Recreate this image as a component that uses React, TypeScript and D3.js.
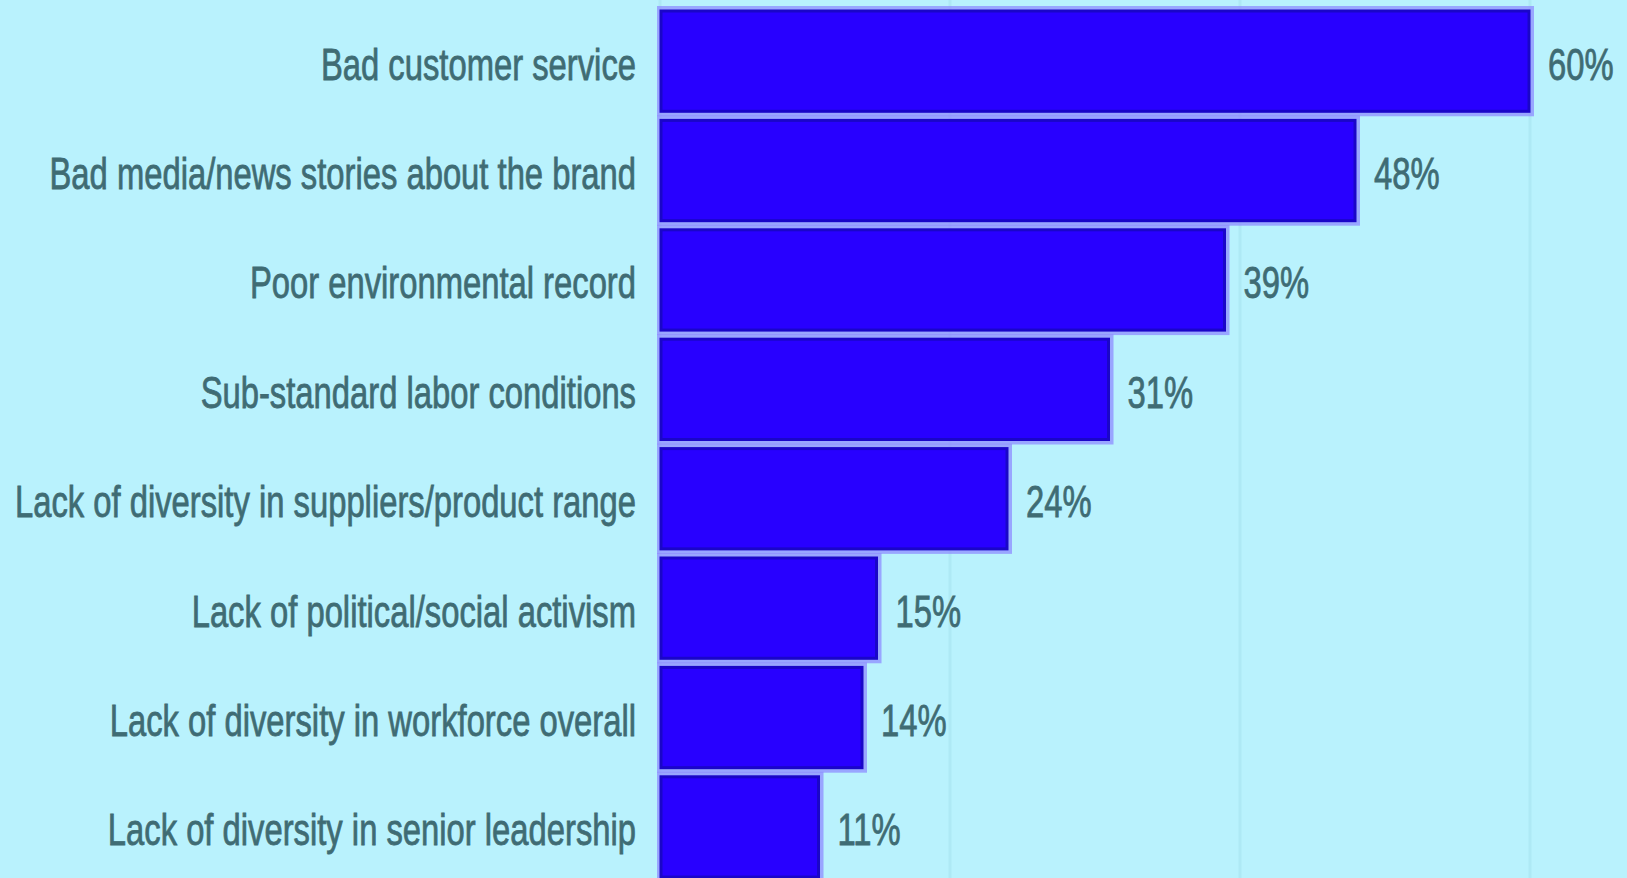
import React, { useEffect, useRef } from 'react';
import * as d3 from 'd3';

const categories = [
  'Bad customer service',
  'Bad media/news stories about the brand',
  'Poor environmental record',
  'Sub-standard labor conditions',
  'Lack of diversity in suppliers/product range',
  'Lack of political/social activism',
  'Lack of diversity in workforce overall',
  'Lack of diversity in senior leadership',
];
const values = [60, 48, 39, 31, 24, 15, 14, 11];
const gridTicks = [0, 20, 40, 60];

const WIDTH = 1627;
const HEIGHT = 878;

const App: React.FC = () => {
  const svgRef = useRef<SVGSVGElement | null>(null);

  useEffect(() => {
    document.body.style.margin = '0';
    if (!svgRef.current) return;
    const svg = d3.select(svgRef.current);
    svg.selectAll('*').remove();

    const bg = '#b9f2fd';
    const textColor = '#3f6c74';
    const fontSize = 44;
    const squeeze = 0.745;
    const step = 109.4;
    const pad = 0.065;

    svg.append('rect').attr('width', WIDTH).attr('height', HEIGHT).attr('fill', bg);

    const x = d3.scaleLinear().domain([0, 60]).range([660, 1530]);
    const y = d3.scaleBand<string>()
      .domain(categories)
      .range([10, 10 + step * (categories.length - pad)])
      .paddingInner(pad)
      .paddingOuter(0);

    // faint gridlines
    svg.selectAll('line.grid')
      .data(gridTicks)
      .enter()
      .append('line')
      .attr('class', 'grid')
      .attr('x1', d => x(d))
      .attr('x2', d => x(d))
      .attr('y1', 0)
      .attr('y2', HEIGHT)
      .attr('stroke', '#aee9f5')
      .attr('stroke-width', 3);

    const rows = categories.map((c, i) => ({ cat: c, value: values[i] }));

    // halo behind bars
    svg.selectAll('rect.halo')
      .data(rows)
      .enter()
      .append('rect')
      .attr('class', 'halo')
      .attr('x', x(0) - 3)
      .attr('y', d => (y(d.cat) as number) - 4)
      .attr('width', d => x(d.value) - x(0) + 7)
      .attr('height', y.bandwidth() + 8)
      .attr('fill', '#8f8cff')
      .attr('opacity', 0.75);

    svg.selectAll('rect.bar')
      .data(rows)
      .enter()
      .append('rect')
      .attr('class', 'bar')
      .attr('x', x(0) + 1)
      .attr('y', d => (y(d.cat) as number) + 1)
      .attr('width', d => x(d.value) - x(0) - 2)
      .attr('height', y.bandwidth() - 2)
      .attr('fill', '#2800ff')
      .attr('stroke', '#1a06c8')
      .attr('stroke-width', 3);

    const mid = (c: string) => (y(c) as number) + y.bandwidth() / 2 + 3;

    // category labels
    svg.selectAll('g.cat')
      .data(rows)
      .enter()
      .append('g')
      .attr('class', 'cat')
      .attr('transform', d => `translate(636,${mid(d.cat)}) scale(${squeeze},1)`)
      .append('text')
      .attr('text-anchor', 'end')
      .attr('dy', '0.35em')
      .style('font-family', '"Liberation Sans", Arial, sans-serif')
      .style('font-size', `${fontSize}px`)
      .attr('fill', textColor)
      .attr('stroke', textColor)
      .attr('stroke-width', 0.8)
      .text(d => d.cat);

    // value labels
    svg.selectAll('g.val')
      .data(rows)
      .enter()
      .append('g')
      .attr('class', 'val')
      .attr('transform', d => `translate(${x(d.value) + 18},${mid(d.cat)}) scale(${squeeze},1)`)
      .append('text')
      .attr('dy', '0.35em')
      .style('font-family', '"Liberation Sans", Arial, sans-serif')
      .style('font-size', `${fontSize}px`)
      .attr('fill', textColor)
      .attr('stroke', textColor)
      .attr('stroke-width', 0.8)
      .text(d => `${d.value}%`);
  }, []);

  return <svg ref={svgRef} width={WIDTH} height={HEIGHT} style={{ display: 'block' }}></svg>;
};

export default App;
